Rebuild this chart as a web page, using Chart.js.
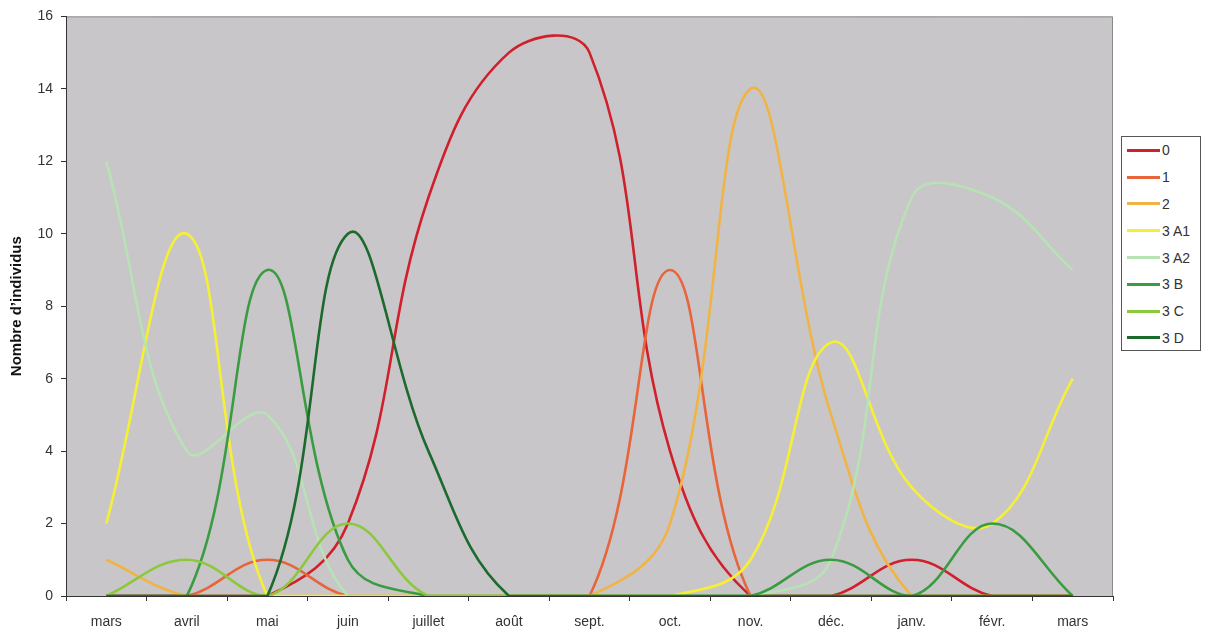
<!DOCTYPE html>
<html lang="fr">
<head>
<meta charset="utf-8">
<title>Nombre d'individus par mois</title>
<script src="https://cdn.jsdelivr.net/npm/chart.js@4.4.1/dist/chart.umd.min.js"></script>
<style>
    html, body { margin: 0; padding: 0; background: #fff; }
    #wrap { position: relative; width: 1209px; height: 636px; }
    #legend {
        position: absolute;
        left: 1121px;
        top: 136px;
        width: 80px;
        height: 215px;
        border: 1px solid #555;
        background: #fff;
        box-sizing: border-box;
        padding-top: 0;
        font-family: "Liberation Sans", Arial, sans-serif;
        font-size: 14px;
        color: #333;
    }
    .legend-item { display: flex; align-items: center; height: 26.8px; }
    .legend-line { display: inline-block; width: 33px; height: 3px; margin: 0 2px 0 5px; }
</style>
</head>
<body>
<div id="wrap">
    <canvas id="chart" width="1209" height="636"></canvas>
    <div id="legend"></div>
</div>
<script>
const months = ['mars', 'avril', 'mai', 'juin', 'juillet', 'août', 'sept.', 'oct.', 'nov.', 'déc.', 'janv.', 'févr.', 'mars'];

const seriesLabels = ['0', '1', '2', '3 A1', '3 A2', '3 B', '3 C', '3 D'];

const stage0 = [0, 0, 0, 2, 11, 15, 15, 4, 0, 0, 1, 0, 0];
const stage1 = [0, 0, 1, 0, 0, 0, 0, 9, 0, 0, 0, 0, 0];
const stage2 = [1, 0, 0, 0, 0, 0, 0, 2, 14, 5, 0, 0, 0];
const stage3A1 = [2, 10, 0, 0, 0, 0, 0, 0, 1, 7, 3, 2, 6];
const stage3A2 = [12, 4, 5, 0, 0, 0, 0, 0, 0, 1, 11, 11, 9];
const stage3B = [0, 0, 9, 1, 0, 0, 0, 0, 0, 1, 0, 2, 0];
const stage3C = [0, 1, 0, 2, 0, 0, 0, 0, 0, 0, 0, 0, 0];
const stage3D = [0, 0, 0, 10, 4, 0, 0, 0, 0, 0, 0, 0, 0];

const yTicks = [0, 2, 4, 6, 8, 10, 12, 14, 16];

const SERIES_COLORS = [
    '#d0202c',
    '#e8643a',
    '#f0b444',
    '#f6f034',
    '#b6e2b4',
    '#3a9c40',
    '#8cc83c',
    '#1c6a2c',
];

const PLOT_BG = '#c9c6c9';
const AXIS_COLOR = '#333';
const TEXT_COLOR = '#333';
const FONT = '"Liberation Sans", Arial, sans-serif';

// plot area fill + grey frame on top/right, like the old Excel chart
const plotFrame = {
    id: 'plotFrame',
    beforeDraw(chart) {
        const { ctx, chartArea: a } = chart;
        ctx.save();
        ctx.fillStyle = PLOT_BG;
        ctx.fillRect(a.left, a.top, a.width, a.height);
        ctx.strokeStyle = '#8a8a8a';
        ctx.lineWidth = 1;
        ctx.beginPath();
        ctx.moveTo(a.left, a.top + 0.5);
        ctx.lineTo(a.right - 0.5, a.top + 0.5);
        ctx.lineTo(a.right - 0.5, a.bottom);
        ctx.stroke();
        ctx.restore();
    },
};

function buildDatasets() {
    const values = [stage0, stage1, stage2, stage3A1, stage3A2, stage3B, stage3C, stage3D];
    return values.map((data, i) => ({
        label: seriesLabels[i],
        data,
        borderColor: SERIES_COLORS[i],
        backgroundColor: SERIES_COLORS[i],
        borderWidth: 2.6,
        pointRadius: 0,
        fill: false,
        tension: 0.4,
        order: -i, // last series on top, as in Excel
    }));
}

function renderLegend() {
    const box = document.getElementById('legend');
    seriesLabels.forEach((label, i) => {
        const row = document.createElement('div');
        row.className = 'legend-item';
        const line = document.createElement('span');
        line.className = 'legend-line';
        line.style.background = SERIES_COLORS[i];
        const text = document.createElement('span');
        text.textContent = label;
        row.appendChild(line);
        row.appendChild(text);
        box.appendChild(row);
    });
}

function renderChart() {
    const canvas = document.getElementById('chart');
    new Chart(canvas, {
        type: 'line',
        data: { labels: months, datasets: buildDatasets() },
        plugins: [plotFrame],
        options: {
            responsive: false,
            animation: false,
            events: [],
            layout: { padding: { top: 15, right: 96, left: 0, bottom: 0 } },
            plugins: {
                legend: { display: false },
                tooltip: { enabled: false },
            },
            scales: {
                x: {
                    offset: true,
                    grid: {
                        offset: true,
                        drawOnChartArea: false,
                        drawTicks: true,
                        tickLength: 5,
                        color: AXIS_COLOR,
                    },
                    border: { display: true, color: AXIS_COLOR, width: 1 },
                    ticks: {
                        color: TEXT_COLOR,
                        font: { family: FONT, size: 14 },
                        padding: 13,
                        maxRotation: 0,
                        autoSkip: false,
                    },
                    afterFit(scale) { scale.height = 40; },
                },
                y: {
                    min: 0,
                    max: 16,
                    afterBuildTicks(scale) {
                        scale.ticks = yTicks.map(v => ({ value: v }));
                    },
                    grid: {
                        drawOnChartArea: false,
                        drawTicks: true,
                        tickLength: 5,
                        color: AXIS_COLOR,
                    },
                    border: { display: true, color: AXIS_COLOR, width: 1 },
                    ticks: {
                        color: TEXT_COLOR,
                        font: { family: FONT, size: 14 },
                        padding: 8,
                    },
                    title: {
                        display: true,
                        text: 'Nombre d\u2019individus',
                        color: '#111',
                        font: { family: FONT, size: 15, weight: 'bold' },
                        padding: { top: 8, bottom: 0 },
                    },
                    afterFit(scale) { scale.width = 66; },
                },
            },
        },
    });
}

renderLegend();
renderChart();
</script>
</body>
</html>
